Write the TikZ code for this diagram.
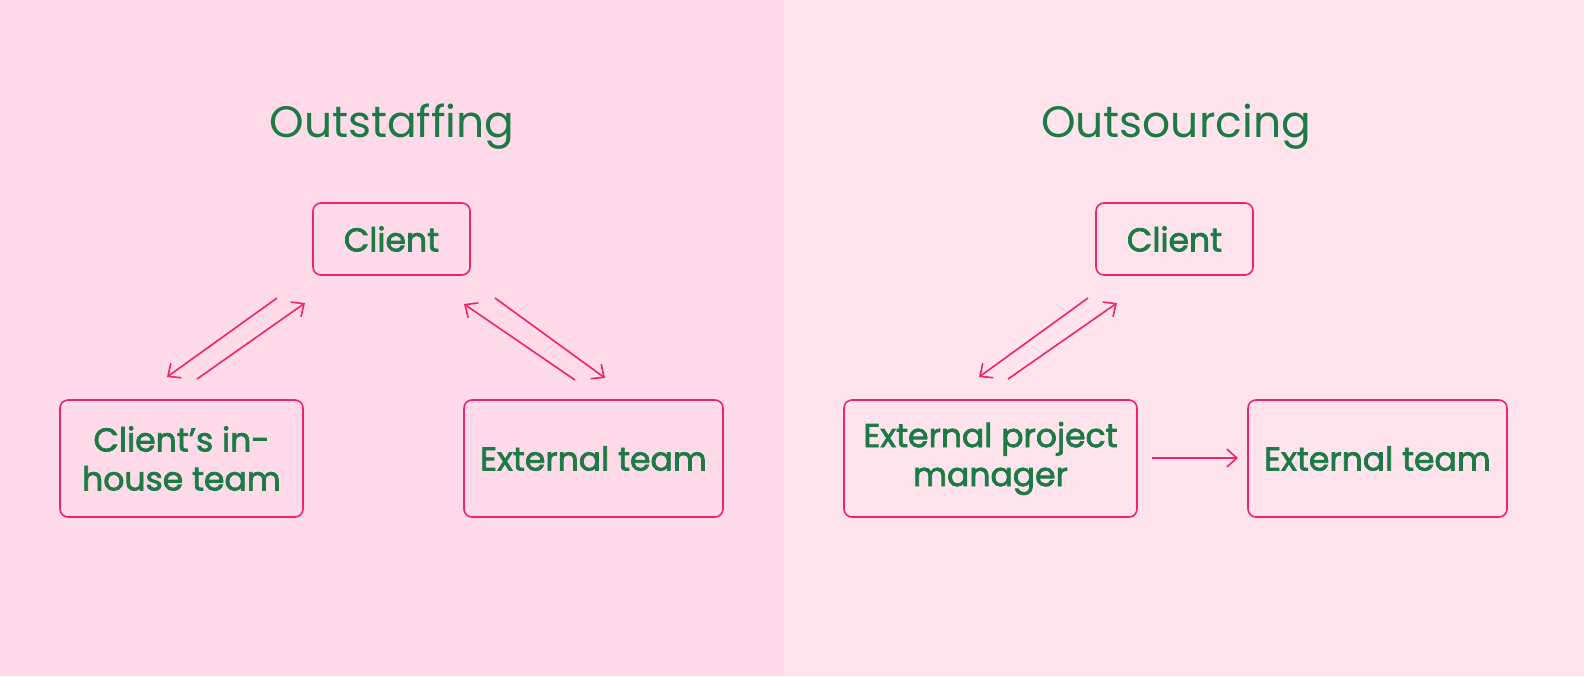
\documentclass[tikz,border=0pt]{standalone}
\usepackage{fontspec}
\setmainfont{Poppins}
\newfontfamily\boxf{Poppins}[FakeBold=2.2]
\usetikzlibrary{arrows.meta}
\definecolor{bgL}{HTML}{FFDAE8}
\definecolor{bgR}{HTML}{FFE4EE}
\definecolor{grn}{HTML}{1B7A45}
\definecolor{pnk}{HTML}{F0246A}
\begin{document}
\begin{tikzpicture}[x=0.5pt,y=-0.5pt,
  box/.style={draw=pnk,line width=0.8pt,rounded corners=4pt,text=grn,font=\boxf\fontsize{16.5}{19.5}\selectfont,align=center,inner sep=0pt},
  ttl/.style={text=grn,font=\fontsize{22}{26}\selectfont},
  arr/.style={pnk,line width=0.8pt,-{Straight Barb[length=5pt,width=9pt]}}]
\fill[bgL] (0,0) rectangle (784,676);
\fill[bgR] (784,0) rectangle (1584,676);
\useasboundingbox (0,0) rectangle (1584,676);
\node[ttl] (t1) at (392,127) {Outstaffing};
\node[ttl] (t2) at (1176,127) {Outsourcing};
\node[box,minimum width=78.5pt,minimum height=36pt] (c1) at (391.5,239) {Client};
\node[box,minimum width=121.5pt,minimum height=58.5pt] (ih) at (181.5,458.5) {Client’s in-\\house team};
\node[box,minimum width=129.5pt,minimum height=58.5pt] (et1) at (593.5,458.5) {External team};
\node[box,minimum width=78.5pt,minimum height=36pt] (c2) at (1174.5,239) {Client};
\node[box,minimum width=146.5pt,minimum height=58.5pt] (pm) at (990.5,458.5) {External project\\manager};
\node[box,minimum width=129.5pt,minimum height=58.5pt] (et2) at (1377.5,458.5) {External team};
\coordinate (a1s) at (277,298); \coordinate (a1e) at (167,377);
\coordinate (a2s) at (197,379); \coordinate (a2e) at (305,303);
\coordinate (a3s) at (575,380); \coordinate (a3e) at (464,304);
\coordinate (a4s) at (495,298); \coordinate (a4e) at (605,378);
\coordinate (a5s) at (1088,298); \coordinate (a5e) at (979,377);
\coordinate (a6s) at (1008,379); \coordinate (a6e) at (1117,303);
\coordinate (a7s) at (1152,458); \coordinate (a7e) at (1238,458);
\foreach \i in {1,...,7} \draw[arr] (a\i s) -- (a\i e);
\end{tikzpicture}
\end{document}
